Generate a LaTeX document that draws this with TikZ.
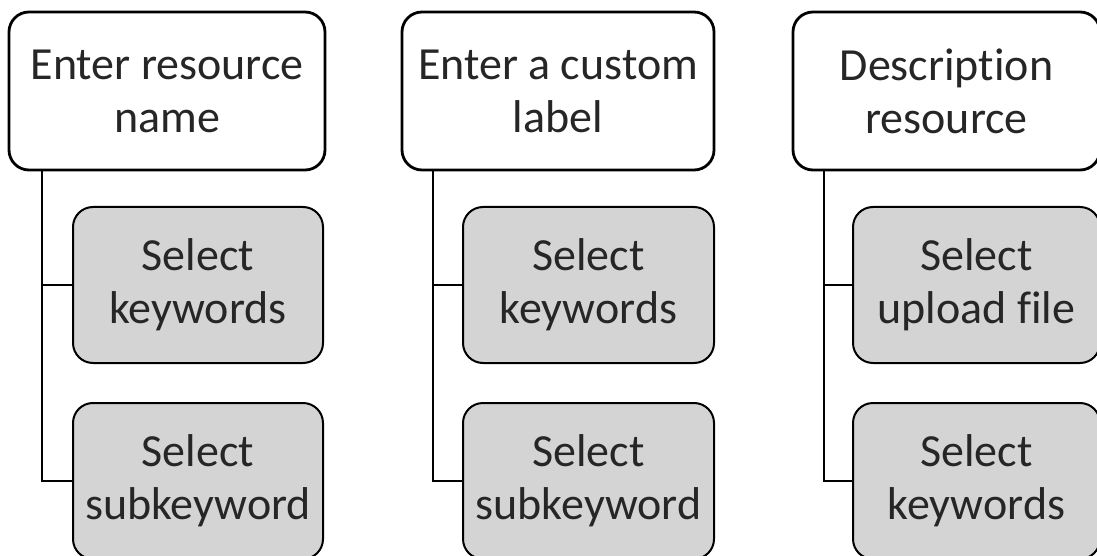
\documentclass[tikz,border=0pt]{standalone}
\usepackage{fontspec}
\setmainfont{Carlito}[Ligatures=NoCommon]
\begin{document}
\begin{tikzpicture}[x=1pt,y=-1pt,
  topbox/.style={draw=black, line width=2.8pt, rounded corners=20pt, fill=white,
    align=center, text=black!85, font=\fontsize{46}{53}\selectfont, inner sep=0pt,
    minimum height=158pt},
  subbox/.style={draw=black, line width=2pt, rounded corners=20pt, fill=black!17,
    align=center, text=black!85, font=\fontsize{46}{53}\selectfont, inner sep=0pt,
    minimum width=250pt, minimum height=156pt},
  link/.style={draw=black, line width=2pt}]
\useasboundingbox (0,0) rectangle (1097,556);
\clip (0,0) rectangle (1097,556);
% column 1
\node[topbox, minimum width=316pt] (t1) at (167,91) {Enter resource\\name};
\node[subbox] (a1) at (198,285) {Select\\keywords};
\node[subbox] (b1) at (198,481) {Select\\subkeyword};
% column 2
\node[topbox, minimum width=312pt] (t2) at (558,91) {Enter a custom\\label};
\node[subbox, minimum width=251pt] (a2) at (588.5,285) {Select\\keywords};
\node[subbox, minimum width=251pt] (b2) at (588.5,481) {Select\\subkeyword};
% column 3
\node[topbox, minimum width=307pt] (t3) at (946.5,91) {Description\\resource};
\node[subbox, minimum width=247pt] (a3) at (976.5,285) {Select\\upload file};
\node[subbox, minimum width=247pt] (b3) at (976.5,481) {Select\\keywords};
% connectors
\draw[link] (t1.south -| 42,0) |- (b1.west);
\draw[link] (42,0 |- a1.west) -- (a1.west);
\draw[link] (t2.south -| 433,0) |- (b2.west);
\draw[link] (433,0 |- a2.west) -- (a2.west);
\draw[link] (t3.south -| 824,0) |- (b3.west);
\draw[link] (824,0 |- a3.west) -- (a3.west);
\end{tikzpicture}
\end{document}
